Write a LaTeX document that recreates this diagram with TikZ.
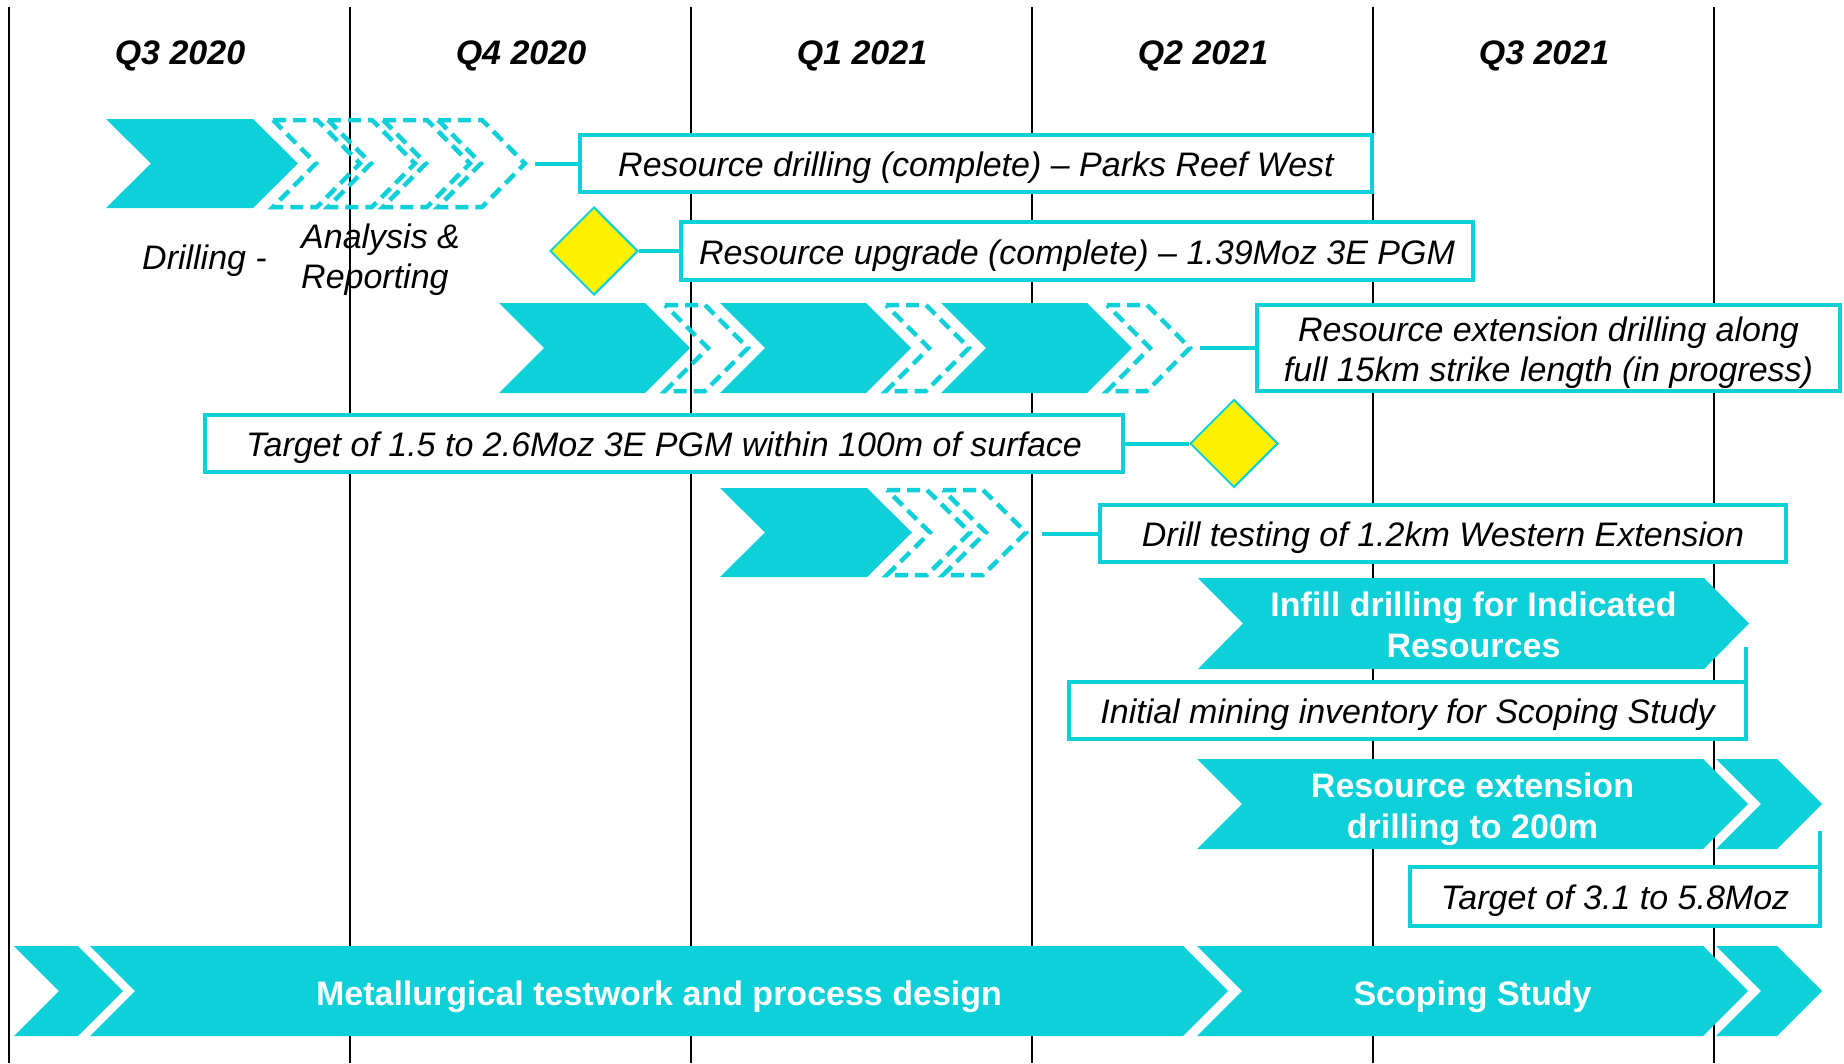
\documentclass[tikz,border=0pt]{standalone}
\usepackage{fontspec}
\setmainfont{Liberation Sans}
\usetikzlibrary{shapes.geometric}
\definecolor{cy}{RGB}{14,208,216}
\newcommand{\dnstrut}{\rule{0pt}{34pt}}
\begin{document}
\begin{tikzpicture}[x=1pt,y=-1pt,
  vline/.style={draw=black,line width=2pt},
  chev/.style={fill=cy},
  dchev/.style={draw=cy,line width=4.5pt,dash pattern=on 13pt off 7pt},
  box/.style={draw=cy,line width=4pt,fill=white,inner sep=0pt,align=center,font=\fontsize{34}{40}\selectfont\itshape},
  conn/.style={draw=cy,line width=4pt},
  mile/.style={diamond,fill=yellow,draw=cy,line width=2pt,inner sep=0pt,minimum width=88pt,minimum height=88pt},
  qlab/.style={font=\fontsize{34}{40}\selectfont\bfseries\itshape,inner sep=0pt,anchor=base},
  clab/.style={font=\fontsize{34}{41}\selectfont\bfseries,text=white,align=center,inner sep=0pt},
  note/.style={font=\fontsize{34}{40}\selectfont\itshape,inner sep=0pt,align=left,anchor=west}]
\useasboundingbox (0,0) rectangle (1844,1063);
\fill[white] (0,0) rectangle (1844,1063);

% quarter grid
\foreach \x in {9,350,691,1032,1373,1714} \draw[vline] (\x,7) -- (\x,1063);
\node[qlab] (q1) at (180,64) {Q3 2020};
\node[qlab] (q2) at (521,64) {Q4 2020};
\node[qlab] (q3) at (862,64) {Q1 2021};
\node[qlab] (q4) at (1203,64) {Q2 2021};
\node[qlab] (q5) at (1544,64) {Q3 2021};

% row 1
\fill[chev] (106,119) -- (253,119) -- (298,163.5) -- (253,208) -- (106,208) -- (151,163.5) -- cycle;
\foreach \a in {273,328,383,438}
  \draw[dchev] (\a,120) -- (\a+44,120) -- (\a+87,163.5) -- (\a+44,207) -- (\a,207) -- (\a+43,163.5) -- cycle;
\node[note] (drl) at (142,260.5) {Drilling -};
\node[note] (ana) at (301,259.5) {Analysis \&\\Reporting};
\node[box,minimum width=792pt,minimum height=57pt] (b1) at (976,163.5) {\dnstrut Resource drilling (complete) – Parks Reef West};
\coordinate (t1) at (535,163.5);
\draw[conn] (t1) -- (b1.west);

% row 2
\node[mile] (d1) at (594,251) {};
\node[box,minimum width=792pt,minimum height=58pt] (b2) at (1077,251) {\dnstrut Resource upgrade (complete) – 1.39Moz 3E PGM};
\draw[conn] (d1.east) -- (b2.west);

% row 3
\fill[chev] (499,303) -- (645,303) -- (690,348) -- (645,393) -- (499,393) -- (544,348) -- cycle;
\fill[chev] (720,303) -- (866,303) -- (911,348) -- (866,393) -- (720,393) -- (765,348) -- cycle;
\fill[chev] (941,303) -- (1087,303) -- (1132,348) -- (1087,393) -- (941,393) -- (986,348) -- cycle;
\foreach \a in {665,886,1107}
  \draw[dchev] (\a,305) -- (\a+40,305) -- (\a+83,348) -- (\a+40,391) -- (\a,391) -- (\a+43,348) -- cycle;
\node[box,minimum width=583pt,minimum height=86pt] (b3) at (1548.5,348) {\dnstrut Resource extension drilling along\\full 15km strike length (in progress)};
\coordinate (t3) at (1200,348);
\draw[conn] (t3) -- (b3.west);

% row 4
\node[box,minimum width=918pt,minimum height=57pt] (b4) at (664,443.5) {\dnstrut Target of 1.5 to 2.6Moz 3E PGM within 100m of surface};
\node[mile] (d2) at (1234,443.5) {};
\draw[conn] (b4.east) -- (d2.west);

% row 5
\fill[chev] (720,488) -- (867,488) -- (912,532.5) -- (867,577) -- (720,577) -- (765,532.5) -- cycle;
\foreach \a in {887,943}
  \draw[dchev] (\a,490) -- (\a+40,490) -- (\a+83,532.5) -- (\a+40,575) -- (\a,575) -- (\a+43,532.5) -- cycle;
\node[box,minimum width=686pt,minimum height=57pt] (b5) at (1443,533.5) {\dnstrut Drill testing of 1.2km Western Extension};
\coordinate (t5) at (1042,533.5);
\draw[conn] (t5) -- (b5.west);

% row 6
\fill[chev] (1198,578) -- (1704,578) -- (1749,623.5) -- (1704,669) -- (1198,669) -- (1243,623.5) -- cycle;
\node[clab] (c6) at (1473.5,624.5) {Infill drilling for Indicated\\Resources};
\node[box,minimum width=677pt,minimum height=57pt] (b6) at (1407.5,710.5) {\dnstrut Initial mining inventory for Scoping Study};
\coordinate (t6) at (1746,647);
\draw[conn] (t6) -- (t6 |- b6.north);

% row 7
\fill[chev] (1197,759) -- (1703,759) -- (1748,804) -- (1703,849) -- (1197,849) -- (1242,804) -- cycle;
\fill[chev] (1716,759) -- (1777,759) -- (1822,804) -- (1777,849) -- (1716,849) -- (1761,804) -- cycle;
\node[clab] (c7) at (1472.5,809) {Resource extension\\drilling to 200m};
\node[box,minimum width=410pt,minimum height=59pt] (b7) at (1615,896.5) {\dnstrut Target of 3.1 to 5.8Moz};
\coordinate (t7) at (1820,831);
\draw[conn] (t7) -- (t7 |- b7.north);

% row 8
\fill[chev] (14,946) -- (78,946) -- (123,991) -- (78,1036) -- (14,1036) -- (59,991) -- cycle;
\fill[chev] (90,946) -- (1183,946) -- (1228,991) -- (1183,1036) -- (90,1036) -- (135,991) -- cycle;
\fill[chev] (1197,946) -- (1703,946) -- (1748,991) -- (1703,1036) -- (1197,1036) -- (1242,991) -- cycle;
\fill[chev] (1716,946) -- (1777,946) -- (1822,991) -- (1777,1036) -- (1716,1036) -- (1761,991) -- cycle;
\node[clab] (c8a) at (659,997) {Metallurgical testwork and process design};
\node[clab] (c8b) at (1472.5,997) {Scoping Study};
\end{tikzpicture}
\end{document}
